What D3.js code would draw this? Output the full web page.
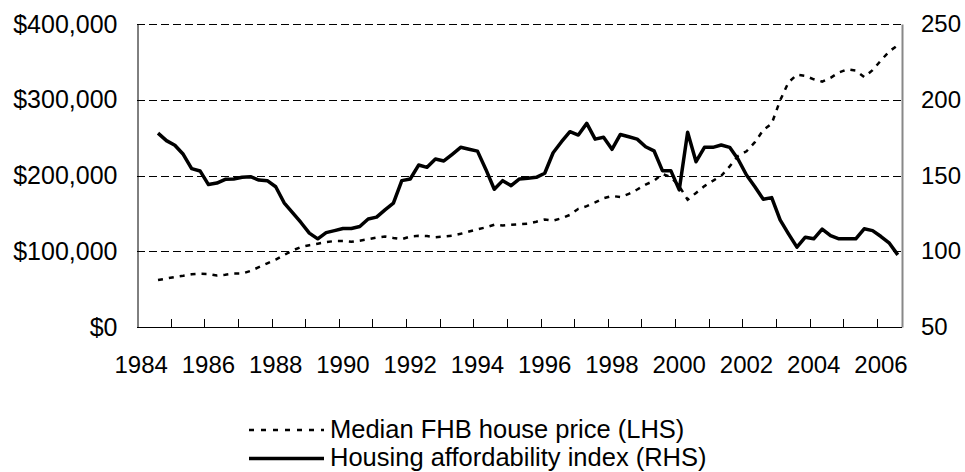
<!DOCTYPE html>
<html>
<head>
<meta charset="utf-8">
<script src="https://cdn.jsdelivr.net/npm/d3@7"></script>
<style>
  body { margin: 0; background: #fff; }
  svg text { font-family: "Liberation Sans", Arial, sans-serif; font-size: 24px; fill: #000; }
  svg .left-axis text { font-size: 25px; }
  svg .legend text { font-size: 25.5px; }
</style>
</head>
<body>
<svg id="chart" width="965" height="472"></svg>
<script>
/**
 * Quarterly categories, 1984 Q1 to 2006 Q3. Data begins in 1984 Q3.
 */
var FIRST_YEAR = 1984;
var NUM_QUARTERS = 91;
var DATA_START = 2; // index of the first quarter with data

// Median first home buyer house price ($'000), 1984 Q3 - 2006 Q3.
var housePrice = [
  62, 64, 66, 67.6, 69.5, 70.2, 70, 68, 69, 70.5, 70.5, 74, 79, 84, 89, 95,
  101, 105.5, 108, 110, 112, 113.5, 113.5, 112.4, 114, 116, 118, 119.4, 117.5,
  116, 119.5, 120.3, 120, 118.6, 119.5, 120.5, 123, 126, 129, 131.5, 135, 134,
  135, 135.7, 136.5, 139, 142, 140.5, 143.5, 148, 156, 159.5, 164.5, 170, 173,
  171.5, 175.8, 181.5, 188, 193, 202, 198, 186, 168, 177, 186, 193, 199.5, 212,
  225.7, 232, 244, 260, 268.5, 299, 323, 333, 331.5, 327, 324, 329, 336, 340,
  338.5, 330, 339, 352, 364, 372
];

// Housing affordability index, 1984 Q3 - 2006 Q3.
var affordIndex = [
  178, 173, 170, 164, 154.5, 153, 144, 145, 147.5, 147.7, 148.8, 149.2, 147,
  146.6, 142.6, 132, 125.5, 119, 112, 108.2, 112.3, 113.6, 115, 115, 116.3,
  121.3, 122.5, 127.3, 131.7, 146.6, 147.7, 156.9, 155.4, 160.9, 159.6, 164,
  168.6, 167.3, 166.1, 154, 140.9, 146.6, 143.3, 147.7, 148.2, 148.8, 151.5,
  165, 172.3, 178.9, 176.7, 184.4, 174, 175.2, 167.3, 177.1, 175.6, 174, 169,
  166.3, 153.2, 153.2, 140.5, 178.5, 159.1, 168.6, 168.6, 170.1, 168.6, 160.7,
  150.3, 142.6, 134.3, 135.4, 120.7, 111.5, 102.7, 109.3, 108.2, 114.6, 110.3,
  108.2, 108.2, 108.2, 114.8, 113.6, 109.7, 105.3, 97.6
];

var leftTicks = [0, 100000, 200000, 300000, 400000];
var rightTicks = [50, 100, 150, 200, 250];
var legendLabels = [
  'Median FHB house price (LHS)',
  'Housing affordability index (RHS)'
];

var quarters = d3.range(NUM_QUARTERS).map(function(i) {
  return (FIRST_YEAR + Math.floor(i / 4)) + 'Q' + (i % 4 + 1);
});

var plot = {left: 137, right: 902, top: 24, bottom: 327};
var svg = d3.select('#chart');

var x = d3.scaleBand()
  .domain(quarters)
  .range([plot.left, plot.right])
  .paddingInner(0)
  .paddingOuter(0);
var yLeft = d3.scaleLinear()
  .domain([0, 400000])
  .range([plot.bottom, plot.top]);
var yRight = d3.scaleLinear()
  .domain([50, 250])
  .range([plot.bottom, plot.top]);

/**
 * Center of a quarter's band.
 * @param {number} i quarter index
 * @return {number}
 */
var xc = function(i) {
  return x(quarters[i]) + x.bandwidth() / 2;
};

// Grid lines (dashed).
svg.append('g')
  .selectAll('line')
  .data(leftTicks.slice(1))
  .enter().append('line')
  .attr('x1', plot.left)
  .attr('x2', plot.right)
  .attr('y1', function(d) { return Math.round(yLeft(d)) + 0.5; })
  .attr('y2', function(d) { return Math.round(yLeft(d)) + 0.5; })
  .attr('stroke', '#000')
  .attr('stroke-width', 1)
  .attr('stroke-dasharray', '8,4');

// Left axis.
var leftAxis = svg.append('g')
  .classed('left-axis', true)
  .attr('transform', 'translate(' + (plot.left + 0.5) + ',0)')
  .call(d3.axisLeft(yLeft)
    .tickValues(leftTicks)
    .tickSize(0)
    .tickPadding(20)
    .tickFormat(function(d) { return '$' + d3.format(',')(d); }));
leftAxis.select('.domain').attr('stroke', '#000');
leftAxis.selectAll('text').attr('font-size', null);

// Right axis.
var rightAxis = svg.append('g')
  .attr('transform', 'translate(' + plot.right + ',0)')
  .call(d3.axisRight(yRight)
    .tickValues(rightTicks)
    .tickSize(0)
    .tickPadding(19));
rightAxis.select('.domain').attr('stroke', '#888').attr('stroke-width', 2);
rightAxis.selectAll('text').attr('font-size', null);

// Bottom axis: tick marks inside at year boundaries, labels every 2 years.
var yearStarts = quarters.filter(function(q, i) {
  return i > 0 && i % 4 == 0;
});
var labelQuarters = quarters.filter(function(q, i) { return i % 8 == 0; });

var bottom = svg.append('g');
bottom.append('line')
  .attr('x1', plot.left)
  .attr('x2', plot.right)
  .attr('y1', plot.bottom + 0.5)
  .attr('y2', plot.bottom + 0.5)
  .attr('stroke', '#000');
bottom.selectAll('line.tick')
  .data(yearStarts)
  .enter().append('line')
  .classed('tick', true)
  .attr('x1', function(q) { return Math.round(x(q)) + 0.5; })
  .attr('x2', function(q) { return Math.round(x(q)) + 0.5; })
  .attr('y1', plot.bottom - 8)
  .attr('y2', plot.bottom)
  .attr('stroke', '#000');
bottom.selectAll('text')
  .data(labelQuarters)
  .enter().append('text')
  .attr('x', function(q) { return x(q) + x.bandwidth() / 2; })
  .attr('y', 373)
  .attr('text-anchor', 'middle')
  .text(function(q) { return q.slice(0, 4); });

// Series.
var priceLine = d3.line()
  .x(function(d, i) { return xc(i + DATA_START); })
  .y(function(d) { return yLeft(d * 1000); });
var affordLine = d3.line()
  .x(function(d, i) { return xc(i + DATA_START); })
  .y(function(d) { return yRight(d); });

svg.append('path')
  .datum(housePrice)
  .attr('d', priceLine)
  .attr('fill', 'none')
  .attr('stroke', '#000')
  .attr('stroke-width', 2.5)
  .attr('stroke-dasharray', '5,6');

svg.append('path')
  .datum(affordIndex)
  .attr('d', affordLine)
  .attr('fill', 'none')
  .attr('stroke', '#000')
  .attr('stroke-width', 3.5)
  .attr('stroke-linejoin', 'round');

// Legend.
var legend = svg.append('g').classed('legend', true);
legendLabels.forEach(function(label, i) {
  var ly = 430 + i * 28.5;
  legend.append('line')
    .attr('x1', 249)
    .attr('x2', 324)
    .attr('y1', ly)
    .attr('y2', ly)
    .attr('stroke', '#000')
    .attr('stroke-width', i == 0 ? 2.5 : 3.5)
    .attr('stroke-dasharray', i == 0 ? '5,7' : null);
  legend.append('text')
    .attr('x', 330)
    .attr('y', ly)
    .attr('dy', '0.3em')
    .text(label);
});
</script>
</body>
</html>
